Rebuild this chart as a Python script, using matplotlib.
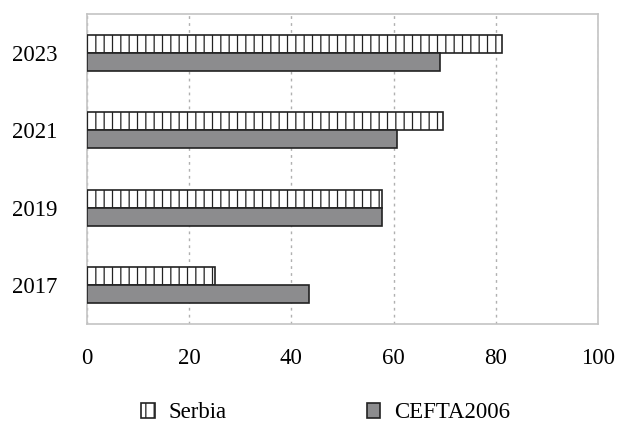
import numpy as np
import matplotlib.pyplot as plt

plt.rcParams['font.family'] = ['Liberation Serif', 'DejaVu Serif']
plt.rcParams['hatch.linewidth'] = 0.9
plt.rcParams['hatch.color'] = '#555555'

# Data
years = ['2017', '2019', '2021', '2023']
serbia = [25.1, 57.8, 69.7, 81.2]
cefta = [43.4, 57.8, 60.6, 69.1]

fig = plt.figure(figsize=(6.19, 4.23), dpi=100)
ax = fig.add_axes([0.1405, 0.234, 0.8255, 0.733])

y = np.arange(len(years))
h = 0.235

ax.barh(y + h / 2, serbia, height=h, color='white', edgecolor='#222222',
        linewidth=1.2, hatch='||', label='Serbia', zorder=3)
ax.barh(y - h / 2, cefta, height=h, color='#8c8c8e', edgecolor='#222222',
        linewidth=1.2, label='CEFTA2006', zorder=3)

ax.set_xlim(0, 100)
ax.set_ylim(-0.5, 3.5)
ax.set_xticks([0, 20, 40, 60, 80, 100])
ax.set_yticks(y)
ax.set_yticklabels(years)
ax.tick_params(length=0, labelsize=16.5)
ax.tick_params(axis='x', pad=17)
ax.tick_params(axis='y', pad=21)

ax.grid(axis='x', linestyle=(0, (2, 3)), color='#b0b0b0', linewidth=1)
ax.set_axisbelow(True)
for s in ax.spines.values():
    s.set_color('#c4c4c4')
    s.set_linewidth(1.2)

fig.legend(loc='center', bbox_to_anchor=(0.526, 0.024), ncol=2, frameon=False,
           fontsize=16.5, handlelength=0.6, handleheight=0.6, handletextpad=0.6,
           columnspacing=6.1)

fig.savefig('out.png', dpi=100)
